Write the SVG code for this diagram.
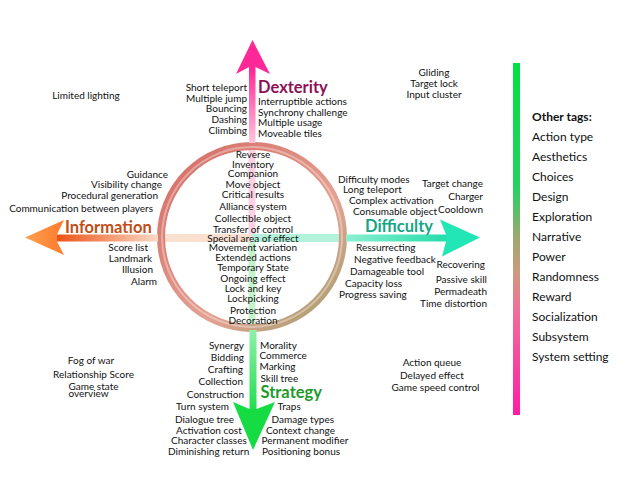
<svg xmlns="http://www.w3.org/2000/svg" width="630" height="500" viewBox="0 0 630 500">
<defs>
<style>
text{font-family:Lato,"Open Sans","Liberation Sans",sans-serif;font-size:10px;fill:#111}
.e{text-anchor:end}.m{text-anchor:middle}
.h{font-weight:bold;font-size:16.5px}
.t{font-size:12px}
</style>
<linearGradient id="ring" gradientUnits="userSpaceOnUse" x1="190" y1="170" x2="330" y2="320">
<stop offset="0" stop-color="#d8766e"/><stop offset="0.6" stop-color="#e4a292"/><stop offset="1" stop-color="#a8a070"/>
</linearGradient>
<linearGradient id="pinkS" gradientUnits="userSpaceOnUse" x1="0" y1="143" x2="0" y2="70">
<stop offset="0" stop-color="#ffc6e0"/><stop offset="1" stop-color="#ff2a96"/>
</linearGradient>
<linearGradient id="oraS" gradientUnits="userSpaceOnUse" x1="160" y1="0" x2="58" y2="0">
<stop offset="0" stop-color="#fcdcc8"/><stop offset="1" stop-color="#ec5418"/>
</linearGradient>
<linearGradient id="oraH" gradientUnits="userSpaceOnUse" x1="25" y1="0" x2="65" y2="0">
<stop offset="0" stop-color="#ffa050"/><stop offset="1" stop-color="#ff7a2a"/>
</linearGradient>
<linearGradient id="tealS" gradientUnits="userSpaceOnUse" x1="344" y1="0" x2="448" y2="0">
<stop offset="0" stop-color="#8ef0d2"/><stop offset="1" stop-color="#22dcaa"/>
</linearGradient>
<linearGradient id="greenS" gradientUnits="userSpaceOnUse" x1="0" y1="330" x2="0" y2="410">
<stop offset="0" stop-color="#90f0a8"/><stop offset="1" stop-color="#22dd50"/>
</linearGradient>
<linearGradient id="bar" x1="0" y1="0" x2="0" y2="1">
<stop offset="0" stop-color="#00e040"/><stop offset="0.36" stop-color="#28d060"/><stop offset="0.5" stop-color="#a0a870"/><stop offset="0.6" stop-color="#d09880"/><stop offset="0.7" stop-color="#f07098"/><stop offset="1" stop-color="#ff1aa8"/>
</linearGradient>
</defs>
<rect width="630" height="500" fill="#fff"/>

<g id="connectors">
<rect x="248.5" y="146" width="7" height="91" fill="#fbd2e4"/>
<rect x="248.5" y="237" width="7" height="91" fill="#c4f2cc"/>
<rect x="160" y="234" width="92" height="8" fill="#fbe0d0"/>
<rect x="252" y="234" width="92" height="8" fill="#b4f2dc"/>
<circle cx="252" cy="237" r="91" fill="none" stroke="url(#ring)" stroke-width="8"/>
<circle cx="252" cy="237" r="90" fill="none" stroke="#fff" stroke-opacity="0.35" stroke-width="2"/>
<rect x="249" y="66" width="6.5" height="77" fill="url(#pinkS)"/>
<polygon points="252.5,40 270,74 255.5,67 249,67 236,74" fill="#ff2896"/>
<rect x="56" y="234.5" width="102" height="7" fill="url(#oraS)"/>
<polygon points="25,237.5 64,220 57,234.5 57,241.5 64,255" fill="url(#oraH)"/>
<rect x="346" y="234.5" width="103" height="7" fill="url(#tealS)"/>
<polygon points="480,237.5 440,219.5 446,234.5 446,241.5 442,256.5" fill="#22e6b6"/>
<rect x="249.5" y="330" width="7" height="80" fill="url(#greenS)"/>
<polygon points="253,450 275,402 256.5,409 249.5,409 233,402" fill="#16dc44"/>
<rect x="513" y="63" width="7" height="352" fill="url(#bar)"/>
</g>

<g id="dexterity">
<text class="e" x="247" y="91">Short teleport</text>
<text class="e" x="247" y="101.5">Multiple jump</text>
<text class="e" x="247" y="112">Bouncing</text>
<text class="e" x="247" y="123">Dashing</text>
<text class="e" x="247" y="133.5">Climbing</text>
<text class="h" x="258" y="93" style="fill:#8e1055">Dexterity</text>
<text x="258" y="105">Interruptible actions</text>
<text x="258" y="115.5">Synchrony challenge</text>
<text x="258" y="126">Multiple usage</text>
<text x="258" y="136.5">Moveable tiles</text>
</g>

<g id="misc-top">
<text class="m" x="86" y="98.5">Limited lighting</text>
<text class="m" x="434" y="76">Gliding</text>
<text class="m" x="434" y="87">Target lock</text>
<text class="m" x="434" y="98">Input cluster</text>
</g>

<g id="information">
<text class="e" x="168" y="177.5">Guidance</text>
<text class="e" x="162" y="188">Visibility change</text>
<text class="e" x="158" y="199">Procedural generation</text>
<text class="e" x="153" y="212">Communication between players</text>
<text class="h" x="65" y="233" style="fill:#c24d16">Information</text>
<text class="e" x="148" y="251">Score list</text>
<text class="e" x="152" y="262">Landmark</text>
<text class="e" x="153" y="273">Illusion</text>
<text class="e" x="157" y="284.5">Alarm</text>
</g>

<g id="center">
<text class="m" x="253" y="158">Reverse</text>
<text class="m" x="253" y="167.5">Inventory</text>
<text class="m" x="253" y="177">Companion</text>
<text class="m" x="253" y="187.5">Move object</text>
<text class="m" x="253" y="197.5">Critical results</text>
<text class="m" x="253" y="209.5">Alliance system</text>
<text class="m" x="253" y="222">Collectible object</text>
<text class="m" x="253" y="232.5">Transfer of control</text>
<text class="m" x="253" y="242">Special area of effect</text>
<text class="m" x="253" y="251">Movement variation</text>
<text class="m" x="253" y="261">Extended actions</text>
<text class="m" x="253" y="270.5">Temporary State</text>
<text class="m" x="253" y="281.5">Ongoing effect</text>
<text class="m" x="253" y="291.5">Lock and key</text>
<text class="m" x="253" y="302">Lockpicking</text>
<text class="m" x="253" y="313.5">Protection</text>
<text class="m" x="253" y="324">Decoration</text>
</g>

<g id="difficulty">
<text x="338" y="182.5">Difficulty modes</text>
<text x="343" y="193">Long teleport</text>
<text x="349" y="204">Complex activation</text>
<text x="353" y="215">Consumable object</text>
<text class="e" x="483" y="187">Target change</text>
<text class="e" x="483" y="200">Charger</text>
<text class="e" x="483" y="213">Cooldown</text>
<text class="h" x="365" y="232" style="fill:#14a684">Difficulty</text>
<text x="356" y="251">Ressurrecting</text>
<text x="354" y="263">Negative feedback</text>
<text x="350" y="274.5">Damageable tool</text>
<text x="345" y="287">Capacity loss</text>
<text x="339" y="297.5">Progress saving</text>
<text class="e" x="485" y="268">Recovering</text>
<text class="e" x="487" y="283">Passive skill</text>
<text class="e" x="487" y="295">Permadeath</text>
<text class="e" x="487" y="307">Time distortion</text>
</g>

<g id="strategy">
<text class="e" x="244" y="348.5">Synergy</text>
<text class="e" x="244" y="361">Bidding</text>
<text class="e" x="243" y="372.5">Crafting</text>
<text class="e" x="243" y="385">Collection</text>
<text class="e" x="244" y="397.5">Construction</text>
<text x="176" y="410">Turn system</text>
<text x="175" y="422.5">Dialogue tree</text>
<text x="176" y="433.5">Activation cost</text>
<text x="171" y="444">Character classes</text>
<text x="168" y="454.5">Diminishing return</text>
<text x="260" y="348.5">Morality</text>
<text x="259.5" y="358.5">Commerce</text>
<text x="259.5" y="370">Marking</text>
<text x="260.5" y="382">Skill tree</text>
<text class="h" x="260.5" y="397.5" style="fill:#1e9a2c">Strategy</text>
<text x="277.5" y="410">Traps</text>
<text x="271.5" y="422.5">Damage types</text>
<text x="266" y="433.5">Context change</text>
<text x="261.5" y="444">Permanent modifier</text>
<text x="262" y="454.5">Positioning bonus</text>
</g>

<g id="misc-bottom">
<text class="m" x="91" y="363.5">Fog of war</text>
<text class="m" x="93.5" y="377.5">Relationship Score</text>
<text x="68.5" y="389.5">Game state</text>
<text x="68.5" y="397">overview</text>
<text class="m" x="432" y="366">Action queue</text>
<text class="m" x="432" y="379">Delayed effect</text>
<text class="m" x="435.5" y="391">Game speed control</text>
</g>

<g id="other-tags">
<text class="t" x="532" y="121" style="font-weight:bold">Other tags:</text>
<text class="t" x="532" y="141">Action type</text>
<text class="t" x="532" y="161">Aesthetics</text>
<text class="t" x="532" y="181">Choices</text>
<text class="t" x="532" y="201">Design</text>
<text class="t" x="532" y="221">Exploration</text>
<text class="t" x="532" y="241">Narrative</text>
<text class="t" x="532" y="261">Power</text>
<text class="t" x="532" y="281">Randomness</text>
<text class="t" x="532" y="301">Reward</text>
<text class="t" x="532" y="321">Socialization</text>
<text class="t" x="532" y="341">Subsystem</text>
<text class="t" x="532" y="361">System setting</text>
</g>
</svg>
